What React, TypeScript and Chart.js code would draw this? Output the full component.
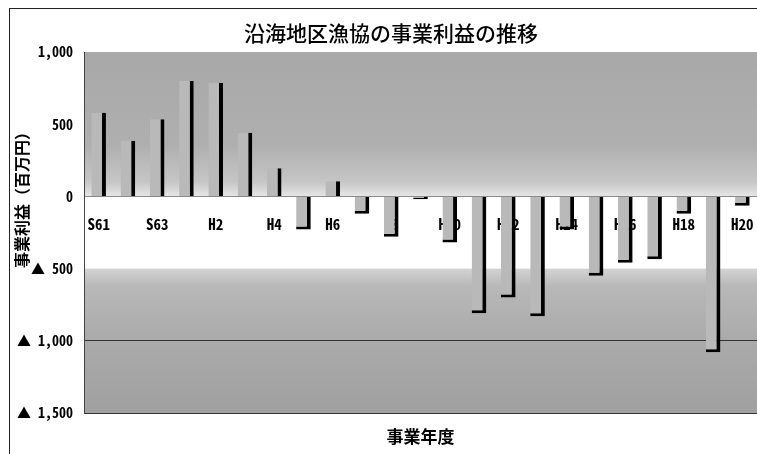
import { useEffect, useRef } from 'react';
import { Chart, registerables } from 'chart.js';

Chart.register(...registerables);

const categories = ['S61', 'S62', 'S63', 'H1', 'H2', 'H3', 'H4', 'H5', 'H6', 'H7', 'H8', 'H9', 'H10', 'H11', 'H12', 'H13', 'H14', 'H15', 'H16', 'H17', 'H18', 'H19', 'H20'];
const profits = [580, 385, 535, 800, 785, 440, 195, -230, 105, -120, -280, -20, -320, -810, -700, -830, -230, -550, -460, -435, -120, -1080, -65];
const yTickValues = [-1500, -1000, -500, 0, 500, 1000];
const yTickLabels = ['▲ 1,500', '▲ 1,000', '▲ 500', '0', '500', '1,000'];
const titleText = '沿海地区漁協の事業利益の推移';
const yTitleText = '事業利益（百万円）';
const xTitleText = '事業年度';

const JP = '"Noto Sans CJK JP", "DejaVu Sans", sans-serif';
const MONO = '"Noto Sans Mono CJK JP", "DejaVu Sans Mono", monospace';

export default function App() {
  const ref = useRef<HTMLCanvasElement>(null);

  useEffect(() => {
    if (!ref.current) return;

    const decor = {
      id: 'decor',
      beforeDraw(chart: any) {
        const { ctx, chartArea: ca, scales } = chart;
        const y = scales.y;
        const yTop = y.getPixelForValue(yTickValues[5]);
        const yZero = y.getPixelForValue(yTickValues[3]);
        const yM500 = y.getPixelForValue(yTickValues[2]);
        const yBot = y.getPixelForValue(yTickValues[0]);
        ctx.save();
        ctx.fillStyle = '#ffffff';
        ctx.fillRect(0, 0, chart.width, chart.height);
        let g = ctx.createLinearGradient(0, yTop, 0, yZero);
        g.addColorStop(0, '#a8a8a8');
        g.addColorStop(0.65, '#afafaf');
        g.addColorStop(0.9, '#c6c6c6');
        g.addColorStop(1, '#e6e6e6');
        ctx.fillStyle = g;
        ctx.fillRect(ca.left, yTop, ca.right - ca.left, yZero - yTop);
        g = ctx.createLinearGradient(0, yM500, 0, yBot);
        g.addColorStop(0, '#d4d4d4');
        g.addColorStop(0.12, '#b8b8b8');
        g.addColorStop(0.5, '#aaaaaa');
        g.addColorStop(1, '#a0a0a0');
        ctx.fillStyle = g;
        ctx.fillRect(ca.left, yM500, ca.right - ca.left, yBot - yM500);
        ctx.restore();
      },
      afterDraw(chart: any) {
        const { ctx, chartArea: ca } = chart;
        ctx.save();
        ctx.strokeStyle = '#222';
        ctx.lineWidth = 1;
        ctx.beginPath();
        ctx.moveTo(9.5, 8);
        ctx.lineTo(9.5, chart.height);
        ctx.moveTo(9, 8.5);
        ctx.lineTo(chart.width, 8.5);
        ctx.stroke();
        ctx.fillStyle = '#000';
        ctx.textAlign = 'center';
        ctx.textBaseline = 'middle';
        ctx.font = `500 21px ${JP}`;
        ctx.fillText(titleText, 391, 33);
        ctx.font = `bold 17px ${JP}`;
        ctx.fillText(xTitleText, (ca.left + ca.right) / 2, 437);
        ctx.translate(22, 196);
        ctx.rotate(-Math.PI / 2);
        ctx.font = `bold 16px ${JP}`;
        ctx.fillText(yTitleText, 0, 0);
        ctx.restore();
      },
    };

    const chart = new Chart(ref.current, {
      type: 'bar',
      data: {
        labels: categories,
        datasets: [
          {
            data: profits,
            backgroundColor: '#b9b9b9',
            borderColor: '#000000',
            borderWidth: { top: 0, left: 0, right: 4, bottom: 3 },
            borderSkipped: 'start',
            barPercentage: 0.5,
            categoryPercentage: 1.0,
          },
        ],
      },
      options: {
        responsive: false,
        animation: false,
        devicePixelRatio: 1,
        layout: { padding: { top: 52, bottom: 41, left: 0, right: 0 } },
        plugins: {
          legend: { display: false },
          title: { display: false },
          tooltip: { enabled: false },
        },
        scales: {
          x: {
            type: 'category',
            position: { y: 0 } as any,
            offset: true,
            afterFit: (scale: any) => {
              scale.paddingLeft = 0;
              scale.paddingRight = 0;
            },
            grid: { display: false },
            border: { display: true, color: '#8a8a8a', width: 1 },
            ticks: {
              autoSkip: false,
              maxRotation: 0,
              minRotation: 0,
              padding: 11,
              color: '#000',
              font: { family: MONO, weight: 'bold', size: 15 },
              callback: (_v: any, i: number) => (i % 2 === 0 ? categories[i] : ''),
            },
          },
          y: {
            min: yTickValues[0],
            max: yTickValues[5],
            afterFit: (scale: any) => {
              scale.width = 84;
            },
            afterBuildTicks: (scale: any) => {
              scale.ticks = yTickValues.map((v) => ({ value: v }));
            },
            grid: {
              drawTicks: false,
              color: (c: any) => (c.tick && (c.tick.value === -1000 || c.tick.value === -1500) ? '#333333' : 'rgba(0,0,0,0)'),
            },
            border: { display: true, color: '#444', width: 1 },
            ticks: {
              padding: 11,
              color: '#000',
              font: { family: MONO, weight: 'bold', size: 14 },
              callback: (v: any) => {
                const i = yTickValues.indexOf(Number(v));
                return i >= 0 ? yTickLabels[i] : '';
              },
            },
          },
        },
      },
      plugins: [decor],
    });

    return () => chart.destroy();
  }, []);

  return (
    <div style={{ position: 'absolute', left: 0, top: 0, width: 757, height: 454 }}>
      <canvas ref={ref} width={757} height={454} style={{ display: 'block', width: 757, height: 454 }} />
    </div>
  );
}
